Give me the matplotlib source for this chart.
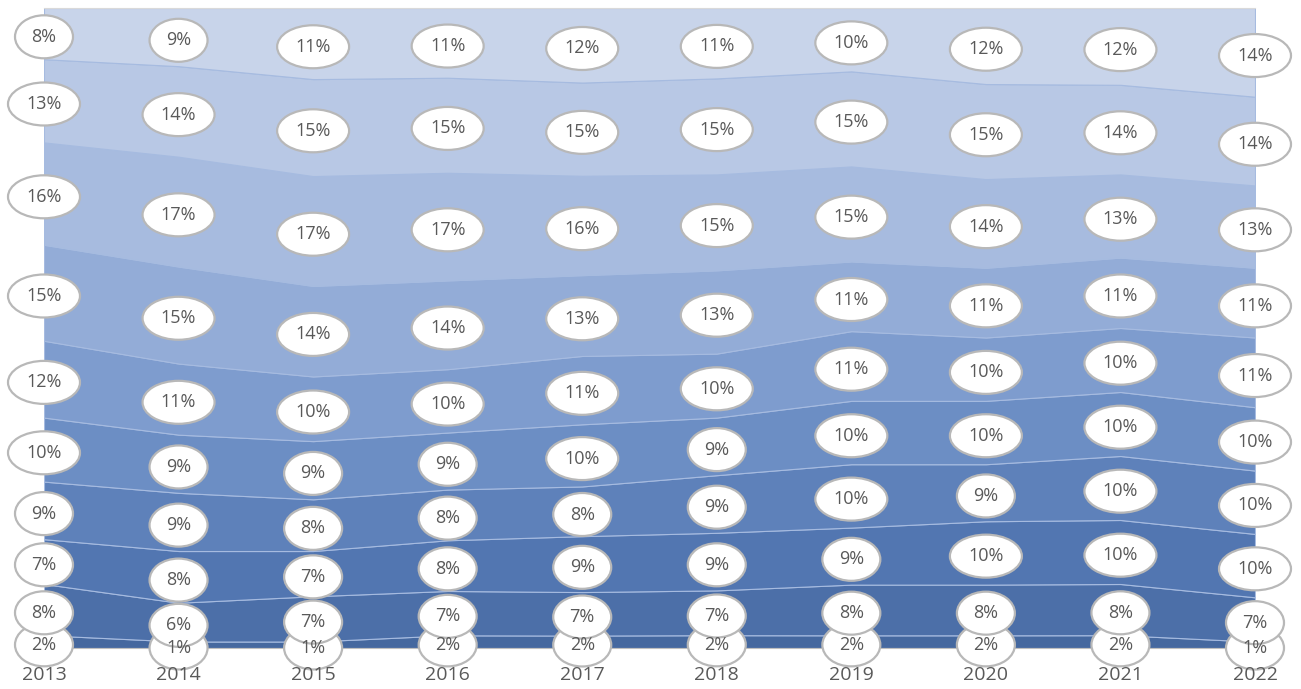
import matplotlib.pyplot as plt
import numpy as np
from matplotlib.patches import Ellipse
from matplotlib.colors import LinearSegmentedColormap

years = [2013, 2014, 2015, 2016, 2017, 2018, 2019, 2020, 2021, 2022]

# shares in percent, bottom layer first
layer1 = [2, 1, 1, 2, 2, 2, 2, 2, 2, 1]
layer2 = [8, 6, 7, 7, 7, 7, 8, 8, 8, 7]
layer3 = [7, 8, 7, 8, 9, 9, 9, 10, 10, 10]
layer4 = [9, 9, 8, 8, 8, 9, 10, 9, 10, 10]
layer5 = [10, 9, 9, 9, 10, 9, 10, 10, 10, 10]
layer6 = [12, 11, 10, 10, 11, 10, 11, 10, 10, 11]
layer7 = [15, 15, 14, 14, 13, 13, 11, 11, 11, 11]
layer8 = [16, 17, 17, 17, 16, 15, 15, 14, 13, 13]
layer9 = [13, 14, 15, 15, 15, 15, 15, 15, 14, 14]
layer10 = [8, 9, 11, 11, 12, 11, 10, 12, 12, 14]

layers = [layer1, layer2, layer3, layer4, layer5,
          layer6, layer7, layer8, layer9, layer10]

data = np.array(layers, dtype=float)
# 100% stacked
data = data / data.sum(axis=0) * 100

cmap = LinearSegmentedColormap.from_list(
    'blues', ['#45689f', '#5478b3', '#7394c9', '#a3b8de', '#c8d4ea'])
colors = [cmap(i / 9) for i in range(10)]

fig = plt.figure(figsize=(13.01, 6.89), dpi=100)
ax = fig.add_axes([44 / 1301, 1 - 648 / 689, 1211 / 1301, 640 / 689])

x = np.array(years, dtype=float)
ax.stackplot(x, data, colors=colors, edgecolor='#a6bbe0', linewidth=0.8)

ax.set_xlim(years[0], years[-1])
ax.set_ylim(0, 100)
ax.set_yticks([])
ax.set_xticks([])
for s in ['left', 'right']:
    ax.spines[s].set_visible(False)
ax.spines['top'].set_color('#d9d9d9')
ax.spines['bottom'].set_color('#bfbfbf')

# year labels drawn above the ellipses
for yr in years:
    ax.text(yr, -4.2, str(yr), ha='center', va='center', fontsize=14,
            color='#595959', family='Open Sans', zorder=8, clip_on=False)

# ellipse labels at layer midpoints
px_per_year = 1211 / 9
px_per_unit = 640 / 100
cum = np.cumsum(data, axis=0)
for i, vals in enumerate(layers):
    for j, yr in enumerate(years):
        mid = cum[i, j] - data[i, j] / 2 - 0.5
        txt = f"{vals[j]}%"
        w = (58 if vals[j] < 10 else 72) / px_per_year
        h = 43 / px_per_unit
        e = Ellipse((yr, mid), w, h, facecolor='white', edgecolor='#b8b8b8',
                    linewidth=1.6, clip_on=False, zorder=5)
        ax.add_patch(e)
        ax.text(yr, mid, txt, ha='center', va='center', fontsize=13,
                color='#595959', family='Open Sans', zorder=6, clip_on=False)

fig.savefig('out.png', dpi=100)
